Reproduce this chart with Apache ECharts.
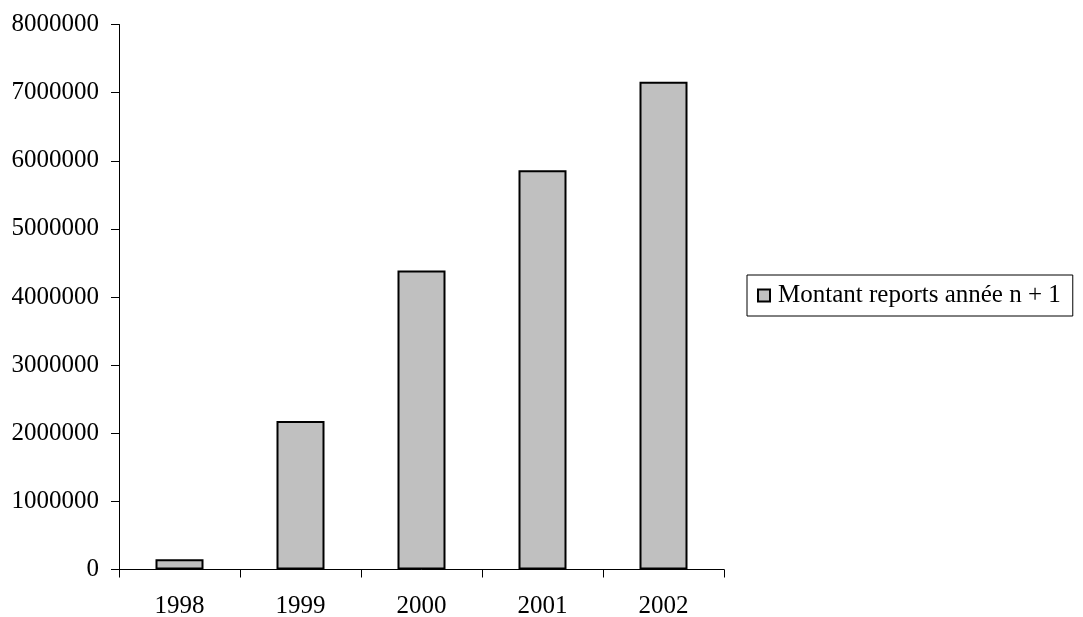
<!DOCTYPE html>
<html>
<head>
<meta charset="utf-8">
<script src="https://cdn.jsdelivr.net/npm/echarts@6/dist/echarts.min.js"></script>
<style>
  html, body { margin: 0; padding: 0; background: #fff; }
  #chart { width: 1083px; height: 617px; }
</style>
</head>
<body>
<div id="chart"></div>
<script>
// Yearly amounts carried over to the following year
const years = ['1998', '1999', '2000', '2001', '2002'];
const reports = [150000, 2180000, 4390000, 5860000, 7160000];
const seriesName = 'Montant reports année n + 1';

const FONT = '"Liberation Serif", "Times New Roman", serif';

const chart = echarts.init(document.getElementById('chart'), null, { renderer: 'canvas' });
chart.setOption({
  animation: false,
  backgroundColor: '#ffffff',
  textStyle: { fontFamily: FONT, color: '#000' },
  grid: {
    left: 119, right: 359, top: 24.5, bottom: 47.5,
    containLabel: false,
    outerBoundsMode: 'none'
  },
  legend: {
    data: [seriesName],
    left: 747,
    top: 275,
    orient: 'vertical',
    icon: 'rect',
    itemWidth: 12,
    itemHeight: 12,
    itemGap: 0,
    padding: [8, 12, 8, 10],
    borderColor: '#000',
    borderWidth: 1,
    textStyle: { fontFamily: FONT, fontSize: 25, color: '#000', padding: [0, 0, 0, 3] },
    itemStyle: { borderColor: '#000', borderWidth: 2 }
  },
  xAxis: {
    type: 'category',
    data: years,
    axisLine: { lineStyle: { color: '#000', width: 1 } },
    axisTick: { show: true, length: 8, alignWithLabel: false, lineStyle: { color: '#000' } },
    axisLabel: { fontFamily: FONT, fontSize: 25, color: '#000', margin: 24 },
    splitLine: { show: false }
  },
  yAxis: {
    type: 'value',
    min: 0,
    max: 8000000,
    interval: 1000000,
    axisLine: { show: true, lineStyle: { color: '#000', width: 1 } },
    axisTick: { show: true, length: 8, lineStyle: { color: '#000' } },
    axisLabel: {
      fontFamily: FONT, fontSize: 25, color: '#000', margin: 20,
      formatter: v => String(v)
    },
    splitLine: { show: false }
  },
  series: [{
    name: seriesName,
    type: 'bar',
    data: reports,
    barWidth: 48,
    itemStyle: { color: '#c0c0c0', borderColor: '#000', borderWidth: 2 }
  }]
});
</script>
</body>
</html>
